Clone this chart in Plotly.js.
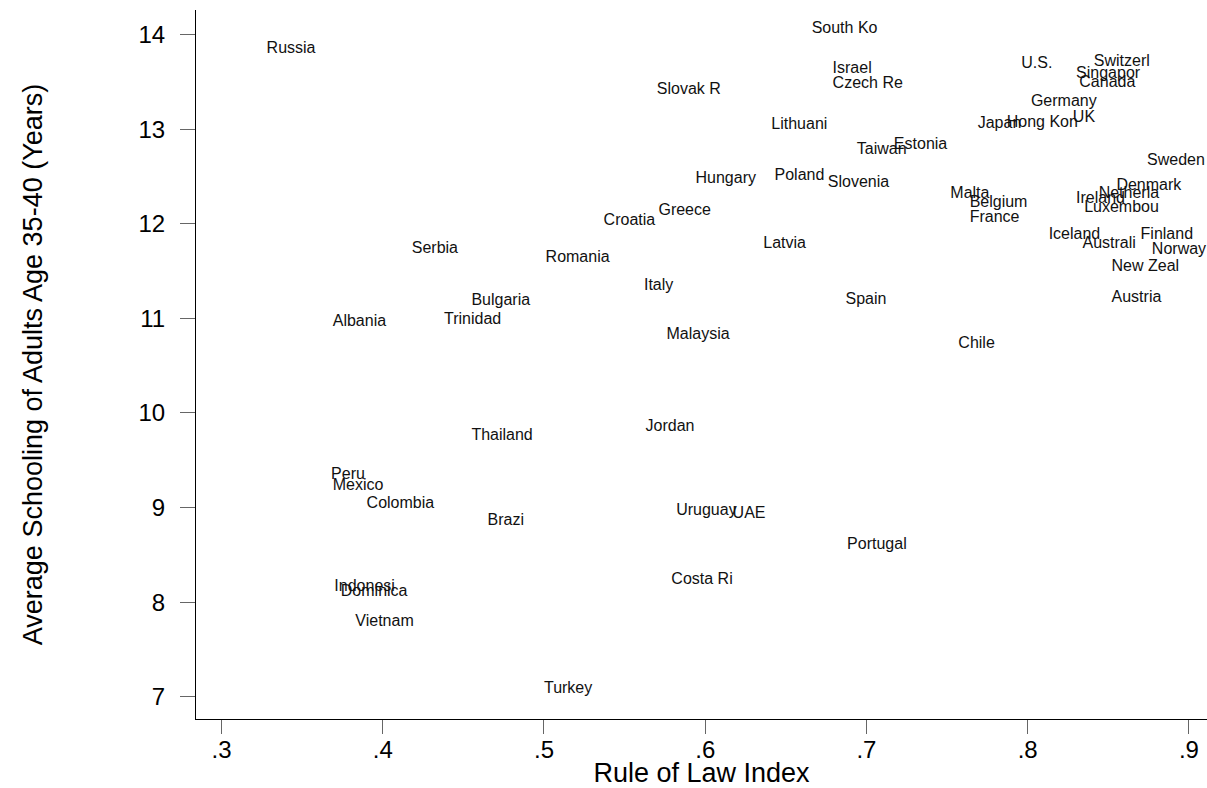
<!DOCTYPE html>
<html>
<head>
<meta charset="utf-8">
<script src="https://cdn.plot.ly/plotly-3.0.1.min.js"></script>
<style>html,body{margin:0;padding:0;background:#fff;}#chart{width:1207px;height:788px;}</style>
</head>
<body>
<div id="chart"></div>
<script>
var countries = ["Russia","South Ko","Israel","Czech Re","Slovak R","U.S.","Switzerl","Singapor","Canada","Germany",
  "Japan","Hong Kon","UK","Lithuani","Estonia","Taiwan","Sweden","Hungary","Poland","Slovenia",
  "Malta","Belgium","France","Denmark","Netherla","Ireland","Luxembou","Greece","Croatia","Iceland",
  "Finland","Australi","Norway","Latvia","Serbia","Romania","New Zeal","Italy","Austria","Spain",
  "Bulgaria","Albania","Trinidad","Malaysia","Chile","Jordan","Thailand","Peru","Mexico","Colombia",
  "Brazi","Uruguay","UAE","Portugal","Costa Ri","Indonesi","Dominica","Vietnam","Turkey"];
var ruleOfLaw = [0.328,0.666,0.679,0.679,0.570,0.796,0.841,0.830,0.832,0.802,
  0.769,0.787,0.828,0.641,0.717,0.694,0.874,0.594,0.643,0.676,
  0.752,0.764,0.764,0.855,0.844,0.830,0.835,0.571,0.537,0.813,
  0.870,0.834,0.877,0.636,0.418,0.501,0.852,0.562,0.852,0.687,
  0.455,0.369,0.438,0.576,0.757,0.563,0.455,0.368,0.369,0.390,
  0.465,0.582,0.617,0.688,0.579,0.370,0.374,0.383,0.500];
var schooling = [13.845,14.065,13.642,13.483,13.417,13.691,13.713,13.586,13.491,13.290,
  13.058,13.068,13.121,13.047,12.836,12.783,12.667,12.477,12.509,12.435,
  12.319,12.224,12.065,12.403,12.319,12.266,12.171,12.139,12.033,11.885,
  11.885,11.790,11.727,11.790,11.737,11.641,11.546,11.345,11.218,11.197,
  11.187,10.965,10.986,10.827,10.732,9.855,9.760,9.348,9.232,9.042,
  8.862,8.967,8.935,8.607,8.238,8.164,8.111,7.794,7.076];
var xTickVals = [0.3,0.4,0.5,0.6,0.7,0.8,0.9];
var xTickText = [".3",".4",".5",".6",".7",".8",".9"];
var yTickVals = [7,8,9,10,11,12,13,14];
var yTickText = ["7","8","9","10","11","12","13","14"];

var font = "Liberation Sans, Arial, Helvetica, sans-serif";

var trace = {
  x: ruleOfLaw, y: schooling, text: countries,
  mode: "text", type: "scatter",
  textposition: "middle right",
  textfont: {family: font, size: 16, color: "#111"},
  hoverinfo: "text", showlegend: false, cliponaxis: false
};

var layout = {
  width: 1207, height: 788,
  margin: {l: 196, r: 0, t: 10, b: 69},
  paper_bgcolor: "#fff", plot_bgcolor: "#fff",
  font: {family: font, color: "#000"},
  showlegend: false,
  xaxis: {
    range: [0.2842, 0.9112], tickmode: "array", tickvals: xTickVals, ticktext: xTickText,
    showgrid: false, zeroline: false, showline: true, linecolor: "#000", linewidth: 1,
    ticks: "outside", ticklen: 14, tickwidth: 1, tickcolor: "#666",
    ticklabelstandoff: -5,
    tickfont: {family: font, size: 24, color: "#000"},
    title: {text: "Rule of Law Index", font: {family: font, size: 27, color: "#000"}, standoff: 9}
  },
  yaxis: {
    range: [6.764, 14.261], tickmode: "array", tickvals: yTickVals, ticktext: yTickText,
    showgrid: false, zeroline: false, showline: true, linecolor: "#000", linewidth: 1,
    ticks: "outside", ticklen: 15, tickwidth: 1, tickcolor: "#666",
    ticklabelstandoff: 10,
    tickfont: {family: font, size: 24, color: "#000"},
    title: {text: "Average Schooling of Adults Age 35-40 (Years)", font: {family: font, size: 27, color: "#000"}, standoff: 88}
  }
};

Plotly.newPlot("chart", [trace], layout, {displayModeBar: false, staticPlot: true});
</script>
</body>
</html>
